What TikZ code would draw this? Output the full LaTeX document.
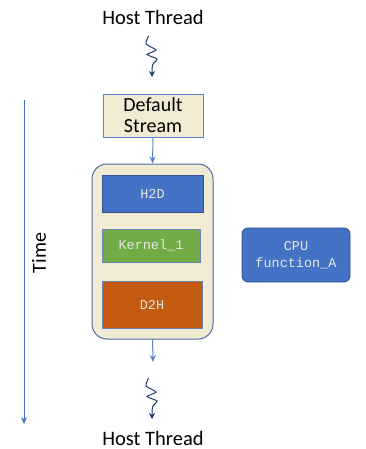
\documentclass[tikz,border=0pt]{standalone}
\usepackage{fontspec}
\setmainfont{Carlito}
\newfontfamily\monof{Liberation Mono}
\usetikzlibrary{arrows.meta}
\definecolor{beige}{HTML}{F2EBD3}
\definecolor{lblue}{HTML}{5B82CC}
\definecolor{mblue}{HTML}{4472C4}
\definecolor{dblue}{HTML}{2F528F}
\definecolor{navy}{HTML}{1F3A6E}
\definecolor{kgreen}{HTML}{70AD47}
\definecolor{dorange}{HTML}{C55A11}
\definecolor{mtext}{HTML}{E6E6E6}
\tikzset{
  bigtext/.style={font=\fontsize{20.5}{22}\selectfont},
  task/.style={draw=dblue, line width=0.8pt, inner sep=0pt, text=mtext,
    font=\monof\fontsize{13.5}{15}\selectfont},
  conn/.style={draw=lblue, line width=1pt, -{Stealth[length=7pt,width=6pt]}},
  squig/.style={draw=navy, line width=1pt, -{Stealth[length=6pt,width=6pt]}}
}
\begin{document}
\begin{tikzpicture}[x=1pt,y=-1pt]
\useasboundingbox (0,0) rectangle (365,449);
% host thread top
\node[bigtext] (ht1) at (153,17) {Host Thread};
\coordinate (sq1a) at (148.5,36);
\draw[squig] plot[smooth, tension=0.35] coordinates {(sq1a) (146,44) (156,50) (147,54.5) (157,59) (152.5,65) (152,77)};
% default stream
\node[draw=lblue, fill=beige, line width=0.9pt, minimum width=100pt, minimum height=43pt,
  inner sep=0pt, align=center, font=\fontsize{20}{21}\selectfont] (ds) at (153,115.5) {Default\\Stream};
% container
\node[draw=dblue!85, fill=beige, line width=1pt, rounded corners=15pt,
  minimum width=121pt, minimum height=175pt, inner sep=0pt] (cont) at (152.5,251.5) {};
\draw[conn] (ds.south) -- (cont.north);
% tasks
\node[task, fill=mblue, minimum width=101pt, minimum height=37pt] (h2d) at (152.5,193.5) {H2D};
\node[task, fill=kgreen, draw=dblue!70, minimum width=98pt, minimum height=33pt] (k1) at (151,245.5) {Kernel\_1};
\node[task, fill=dorange, draw=dblue!70, minimum width=100pt, minimum height=47pt] (d2h) at (152,304.5) {D2H};
% bottom arrow
\coordinate (a2) at (153,362);
\draw[conn] (cont.south) -- (a2);
% squiggle bottom
\coordinate (sq2a) at (148.5,378);
\draw[squig] plot[smooth, tension=0.35] coordinates {(sq2a) (146,386) (156,392) (147,396.5) (157,401) (152.5,407) (152,419)};
\node[bigtext] (ht2) at (153,438) {Host Thread};
% CPU function
\node[task, fill=mblue, draw=dblue, rounded corners=6pt, minimum width=108pt, minimum height=54pt,
  align=center, font=\monof\fontsize{13.5}{17}\selectfont] (cpu) at (296,255) {CPU\\function\_A};
% time axis
\coordinate (t0) at (24,100);
\coordinate (t1) at (24,424);
\draw[conn, draw=mblue] (t0) -- (t1);
\node[rotate=90, font=\fontsize{20}{22}\selectfont] (time) at (39,253) {Time};
\end{tikzpicture}
\end{document}
